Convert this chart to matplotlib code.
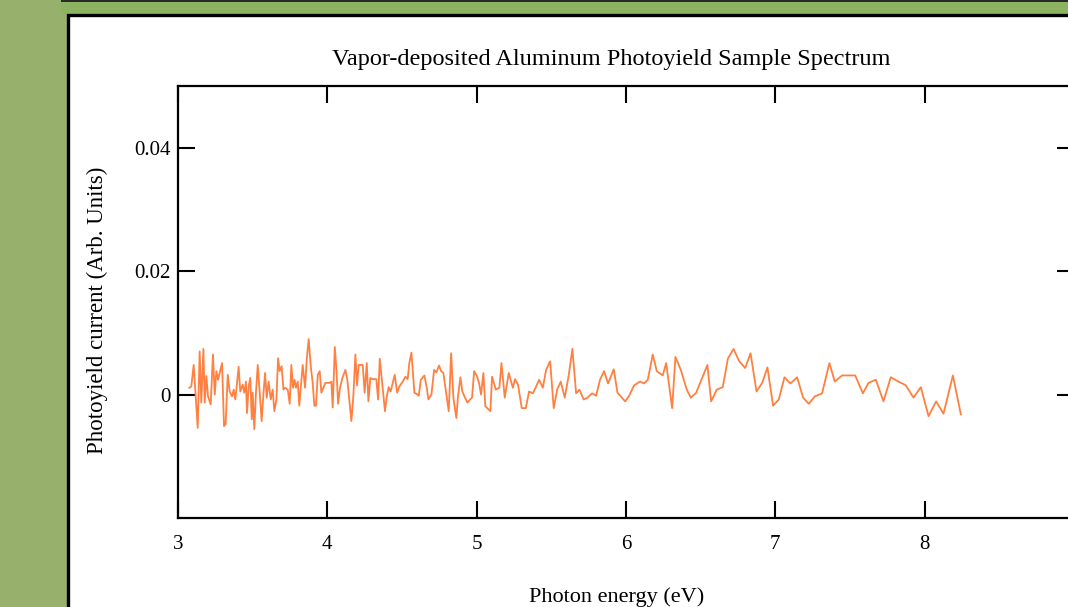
import matplotlib.pyplot as plt
from matplotlib.patches import Rectangle

# Photon energy (eV) and photoyield current (arb. units)
energy = [
    3.076, 3.089, 3.105, 3.132, 3.145, 3.156, 3.170, 3.179, 3.190, 3.201,
    3.219, 3.234, 3.246, 3.257, 3.268, 3.279, 3.295, 3.308, 3.319, 3.333,
    3.346, 3.362, 3.373, 3.384, 3.406, 3.417, 3.433, 3.444, 3.455, 3.462,
    3.473, 3.484, 3.494, 3.500, 3.511, 3.522, 3.534, 3.549, 3.560, 3.571,
    3.583, 3.594, 3.607, 3.621, 3.634, 3.645, 3.659, 3.670, 3.681, 3.694,
    3.706, 3.717, 3.735, 3.748, 3.759, 3.770, 3.781, 3.790, 3.802, 3.812,
    3.835, 3.851, 3.862, 3.875, 3.889, 3.902, 3.913, 3.924, 3.936, 3.949,
    3.960, 3.987, 4.016, 4.027, 4.036, 4.050, 4.061, 4.072, 4.085, 4.101,
    4.121, 4.134, 4.161, 4.174, 4.188, 4.199, 4.210, 4.237, 4.250, 4.264,
    4.275, 4.288, 4.301, 4.328, 4.340, 4.351, 4.386, 4.398, 4.411, 4.424,
    4.451, 4.468, 4.482, 4.505, 4.523, 4.538, 4.549, 4.563, 4.583, 4.599,
    4.612, 4.626, 4.650, 4.666, 4.677, 4.697, 4.715, 4.730, 4.748, 4.762,
    4.777, 4.813, 4.829, 4.844, 4.864, 4.875, 4.891, 4.904, 4.922, 4.938,
    4.956, 4.969, 4.983, 5.001, 5.016, 5.029, 5.045, 5.058, 5.092, 5.103,
    5.128, 5.152, 5.166, 5.188, 5.215, 5.242, 5.257, 5.277, 5.291, 5.302,
    5.329, 5.351, 5.376, 5.398, 5.418, 5.443, 5.465, 5.492, 5.516, 5.539,
    5.563, 5.590, 5.617, 5.641, 5.666, 5.688, 5.717, 5.742, 5.773, 5.800,
    5.826, 5.853, 5.880, 5.918, 5.943, 5.969, 5.994, 6.019, 6.054, 6.094,
    6.121, 6.146, 6.179, 6.206, 6.246, 6.269, 6.309, 6.331, 6.367, 6.407,
    6.434, 6.470, 6.545, 6.570, 6.608, 6.648, 6.682, 6.720, 6.758, 6.798,
    6.834, 6.874, 6.912, 6.947, 6.985, 7.023, 7.061, 7.101, 7.146, 7.186,
    7.224, 7.264, 7.313, 7.362, 7.398, 7.447, 7.535, 7.586, 7.624, 7.673,
    7.724, 7.773, 7.825, 7.874, 7.925, 7.974, 8.026, 8.077, 8.126, 8.189,
    8.242,
]
current = [
    0.0011, 0.0013, 0.0048, -0.0054, 0.0070, -0.0013, 0.0074, -0.0013, 0.0030, -0.0003,
    -0.0016, 0.0065, 0.0000, 0.0038, 0.0024, 0.0035, 0.0051, -0.0051, -0.0048, 0.0032,
    0.0005, -0.0003, 0.0008, -0.0008, 0.0045, 0.0005, 0.0016, 0.0003, 0.0021, -0.0030,
    0.0013, 0.0027, -0.0040, 0.0003, -0.0056, 0.0003, 0.0048, -0.0003, -0.0043, -0.0003,
    0.0035, -0.0005, 0.0021, -0.0008, 0.0008, -0.0027, -0.0008, 0.0059, 0.0038, 0.0046,
    0.0008, 0.0011, 0.0008, -0.0015, 0.0048, 0.0011, 0.0024, 0.0011, 0.0021, -0.0018,
    0.0048, 0.0011, 0.0056, 0.0090, 0.0046, 0.0019, -0.0018, -0.0018, 0.0032, 0.0038,
    0.0003, 0.0019, 0.0019, 0.0021, -0.0021, 0.0077, 0.0040, -0.0015, 0.0011, 0.0027,
    0.0040, 0.0024, -0.0043, -0.0003, 0.0065, 0.0015, 0.0048, 0.0048, 0.0003, 0.0051,
    -0.0011, 0.0027, 0.0025, 0.0025, -0.0008, 0.0058, -0.0027, -0.0003, 0.0012, 0.0005,
    0.0032, 0.0003, 0.0013, 0.0021, 0.0029, 0.0025, 0.0051, 0.0068, 0.0003, 0.0001,
    -0.0002, 0.0024, 0.0031, 0.0011, -0.0008, 0.0000, 0.0040, 0.0036, 0.0047, 0.0038,
    0.0035, -0.0027, 0.0067, -0.0005, -0.0038, -0.0003, 0.0028, 0.0005, -0.0005, -0.0013,
    -0.0008, -0.0005, 0.0038, 0.0030, 0.0019, 0.0000, 0.0035, -0.0019, -0.0027, 0.0029,
    0.0008, 0.0011, 0.0051, -0.0005, 0.0035, 0.0011, 0.0025, 0.0016, -0.0005, -0.0022,
    -0.0022, 0.0005, 0.0002, 0.0013, 0.0024, 0.0011, 0.0040, 0.0054, -0.0022, 0.0008,
    0.0021, -0.0005, 0.0032, 0.0074, 0.0002, 0.0008, -0.0008, -0.0005, 0.0002, -0.0002,
    0.0024, 0.0038, 0.0018, 0.0041, 0.0003, -0.0004, -0.0011, -0.0003, 0.0015, 0.0021,
    0.0018, 0.0024, 0.0065, 0.0038, 0.0031, 0.0051, -0.0022, 0.0061, 0.0040, 0.0008,
    -0.0005, 0.0003, 0.0048, -0.0011, 0.0008, 0.0012, 0.0058, 0.0074, 0.0054, 0.0043,
    0.0067, 0.0005, 0.0019, 0.0044, -0.0018, -0.0008, 0.0028, 0.0018, 0.0028, -0.0005,
    -0.0015, -0.0003, 0.0002, 0.0051, 0.0021, 0.0031, 0.0031, 0.0002, 0.0019, 0.0024,
    -0.0011, 0.0028, 0.0021, 0.0015, -0.0005, 0.0012, -0.0035, -0.0011, -0.0031, 0.0031,
    -0.0032,
]

xticks = [3, 4, 5, 6, 7, 8]
xticklabels = ["3", "4", "5", "6", "7", "8"]
yticks = [0, 0.02, 0.04]
yticklabels = ["0", "0.02", "0.04"]

W, H = 1068, 607
plt.rcParams["font.family"] = ["Liberation Serif", "DejaVu Serif"]

fig = plt.figure(figsize=(W / 100, H / 100), dpi=100, facecolor="#97b06b")

# top band and white framed panel behind the plot
fig.add_artist(Rectangle((61 / W, 1 - 14 / H), 1.0, 14 / H, transform=fig.transFigure,
                         facecolor="#8db360", edgecolor="none", zorder=0))
fig.add_artist(Rectangle((61 / W, 1 - 1.5 / H), 1.0, 3 / H, transform=fig.transFigure,
                         facecolor="#2a2a2a", edgecolor="none", zorder=0))
fig.add_artist(Rectangle((67.5 / W, -0.1), 1.0, 1.1 - 15.5 / H, transform=fig.transFigure,
                         facecolor="white", edgecolor="black", linewidth=2.4, zorder=0))

ax = fig.add_axes([178 / W, 89 / H, 896 / W, 432 / H])
ax.set_facecolor("white")
ax.plot(energy, current, color="#ff8040", linewidth=1.3)

ax.set_xlim(3, 9)
ax.set_ylim(-0.02, 0.05)
ax.set_xticks(xticks)
ax.set_xticklabels(xticklabels)
ax.set_yticks(yticks)
ax.set_yticklabels(yticklabels)
ax.tick_params(direction="in", length=12, width=1.5, top=True, right=True,
               labelsize=15, colors="black")
ax.tick_params(axis="x", pad=12)
ax.tick_params(axis="y", pad=5)
for s in ax.spines.values():
    s.set_linewidth(1.6)

ax.set_title("Vapor-deposited Aluminum Photoyield Sample Spectrum", fontsize=17.5,
             x=(611 - 178) / 896, pad=15)
ax.set_xlabel("Photon energy (eV)", fontsize=16)
ax.set_ylabel("Photoyield current (Arb. Units)", fontsize=16.5)
ax.xaxis.set_label_coords((617 - 178) / 896, -(597 - 518) / 432)
ax.yaxis.set_label_coords(-(178 - 97) / 896, (518 - 310) / 432)
ax.xaxis.label.set_va("center")
ax.yaxis.label.set_va("center")

fig.savefig("out.png", dpi=100, facecolor=fig.get_facecolor())
